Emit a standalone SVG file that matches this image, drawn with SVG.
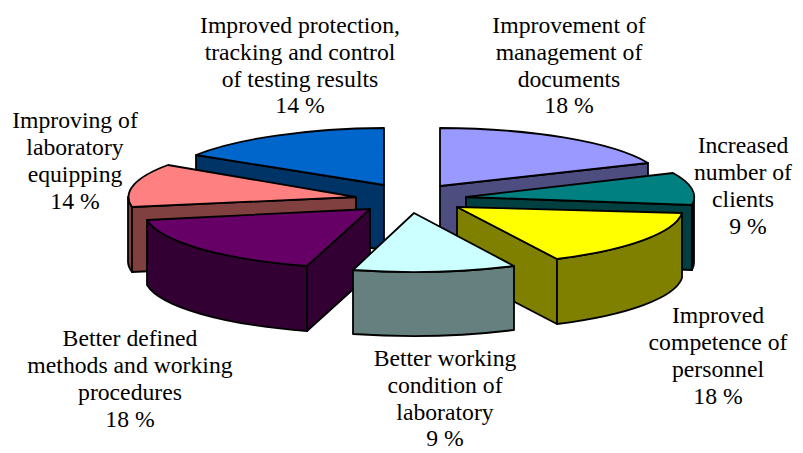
<svg xmlns="http://www.w3.org/2000/svg" width="803" height="453" viewBox="0 0 803 453">
<style>
.s{stroke:#000;stroke-width:1.8;stroke-linejoin:round}
.t{font-family:'Liberation Serif','Tinos','Times New Roman','DejaVu Serif',serif;font-size:23.7px;fill:#000;text-anchor:middle}
</style>
<rect width="803" height="453" fill="#fff"/>
<g id="slice-protection">
<path class="s" fill="#003366" d="M196,155 L384,185 L384,250 L196,220 Z"/>
<path class="s" fill="#0066cc" d="M384,185 L196,155 A228,57 0 0 1 384,128 Z"/>
</g>
<g id="slice-documents">
<path class="s" fill="#4d4d80" d="M440,186 L648,163 L648,228 L440,251 Z"/>
<path class="s" fill="#9999ff" d="M440,186 L440,128 A228,57 0 0 1 648,163 Z"/>
</g>
<g id="slice-equipping">
<path class="s" fill="#804040" d="M128,197 L128,262 A228,57 0 0 0 132,272 L132,207 A228,57 0 0 1 128,197 Z"/>
<path class="s" fill="#804040" d="M132,207 L356,197 L356,262 L132,272 Z"/>
<path class="s" fill="#ff8080" d="M356,197 L168,165 A228,57 0 0 0 132,207 Z"/>
</g>
<g id="slice-clients">
<path class="s" fill="#004040" d="M466,197 L692,205 L692,270 L466,262 Z"/>
<path class="s" fill="#102020" d="M692,205 A228,57 0 0 0 694,197 L694,262 A228,57 0 0 1 692,270 Z"/>
<path class="s" fill="#008080" d="M466,197 L673,173 A228,57 0 0 1 692,205 Z"/>
</g>
<g id="slice-methods">
<path class="s" fill="#330033" d="M147,220 A228,57 0 0 0 307,266 L307,331 A228,57 0 0 1 147,285 Z"/>
<path class="s" fill="#330033" d="M307,266 L370,209 L370,274 L307,331 Z"/>
<path class="s" fill="#660066" d="M370,209 L147,220 A228,57 0 0 0 307,266 Z"/>
</g>
<g id="slice-competence">
<path class="s" fill="#808000" d="M457,207 L557,259 L557,324 L457,272 Z"/>
<path class="s" fill="#808000" d="M557,259 A228,57 0 0 0 682,213 L682,278 A228,57 0 0 1 557,324 Z"/>
<path class="s" fill="#ffff00" d="M457,207 L682,213 A228,57 0 0 1 557,259 Z"/>
</g>
<g id="slice-working">
<path class="s" fill="#668080" d="M353,270 A228,57 0 0 0 514,266 L514,330 A228,57 0 0 1 353,334 Z"/>
<path class="s" fill="#ccffff" d="M414,213 L514,266 A228,57 0 0 1 353,270 Z"/>
</g>
<g id="connectors"></g>
<g id="labels">
<text class="t" x="300" y="33">Improved protection,</text>
<text class="t" x="300" y="60">tracking and control</text>
<text class="t" x="300" y="87">of testing results</text>
<text class="t" x="300" y="113">14 %</text>
<text class="t" x="569" y="33">Improvement of</text>
<text class="t" x="569" y="60">management of</text>
<text class="t" x="569" y="87">documents</text>
<text class="t" x="569" y="113">18 %</text>
<text class="t" x="75" y="128">Improving of</text>
<text class="t" x="75" y="155">laboratory</text>
<text class="t" x="75" y="182">equipping</text>
<text class="t" x="75" y="209">14 %</text>
<text class="t" x="743" y="153">Increased</text>
<text class="t" x="743" y="180">number of</text>
<text class="t" x="743" y="207">clients</text>
<text class="t" x="748" y="234">9 %</text>
<text class="t" x="718" y="323">Improved</text>
<text class="t" x="718" y="350">competence of</text>
<text class="t" x="718" y="377">personnel</text>
<text class="t" x="718" y="404">18 %</text>
<text class="t" x="445" y="366">Better working</text>
<text class="t" x="445" y="393">condition of</text>
<text class="t" x="445" y="420">laboratory</text>
<text class="t" x="445" y="446">9 %</text>
<text class="t" x="130" y="346">Better defined</text>
<text class="t" x="130" y="373">methods and working</text>
<text class="t" x="130" y="400">procedures</text>
<text class="t" x="130" y="427">18 %</text>
</g>
</svg>
